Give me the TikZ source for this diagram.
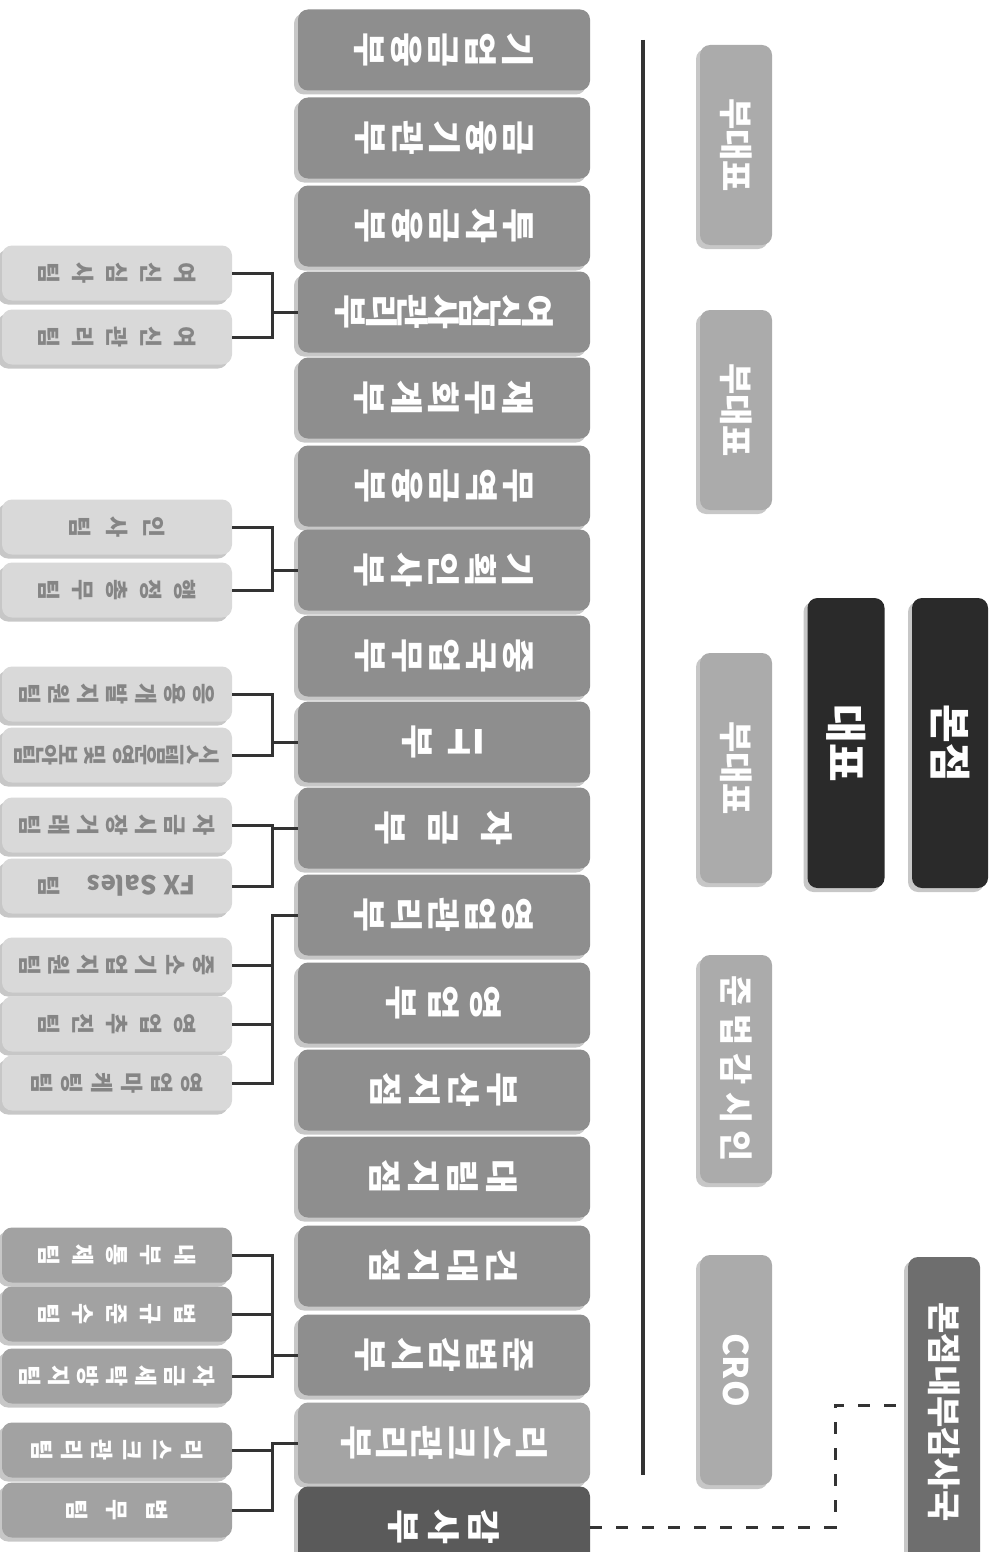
\documentclass[tikz,border=0pt]{standalone}
\usepackage{fontspec}
\setmainfont{Noto Sans CJK KR}
\newfontfamily\krwide{Noto Sans CJK KR}[FakeStretch=1.15]
\usetikzlibrary{shadows}
\definecolor{deptc}{HTML}{8E8E8E}
\definecolor{deptl}{HTML}{A4A4A4}
\definecolor{auditc}{HTML}{5A5A5A}
\definecolor{teamlight}{HTML}{D9D9D9}
\definecolor{teamdark}{HTML}{A2A2A2}
\definecolor{teamtext}{HTML}{858585}
\definecolor{vpc}{HTML}{ABABAB}
\definecolor{chiefc}{HTML}{2A2A2A}
\definecolor{iac}{HTML}{6E6E6E}
\definecolor{linec}{HTML}{333333}
\tikzset{
  box/.style={rounded corners=10pt, rotate=-90, inner sep=0pt, align=center, text=white,
    drop shadow={shadow xshift=-4pt, shadow yshift=-4pt, opacity=0.22, fill=black}},
  dept/.style={box, fill=deptc, minimum width=81pt, minimum height=292pt,
    font=\krwide\bfseries\fontsize{33}{#1}\selectfont},
  dept/.default=37,
  team/.style={box, fill=teamlight, text=teamtext, minimum width=55pt, minimum height=230pt,
    font=\bfseries\fontsize{23}{#1}\selectfont},
  team/.default=34,
  dteam/.style={team=#1, fill=teamdark, text=white},
  dteam/.default=34,
  side/.style={box, fill=vpc, minimum height=72pt, font=\bfseries\fontsize{34}{40}\selectfont},
  chief/.style={box, fill=chiefc, minimum height=77pt, minimum width=290pt, font=\bfseries\fontsize{42}{48}\selectfont},
  conn/.style={draw=linec, line width=3pt},
  dashconn/.style={draw=linec, line width=3pt, dash pattern=on 12pt off 14pt},
}
\begin{document}
\begin{tikzpicture}[x=1pt,y=-1pt]
\useasboundingbox (0,0) rectangle (998,1552);
\clip (0,0) rectangle (998,1552);
\fill[white] (0,0) rectangle (998,1552);

% departments
\node[dept] (d1) at (444,50) {기\\업\\금\\융\\부};
\node[dept] (d2) at (444,138) {금\\융\\기\\관\\부};
\node[dept] (d3) at (444,226) {투\\자\\금\\융\\부};
\node[dept=31] (d4) at (444,312) {여\\신\\심\\사\\관\\리\\부};
\node[dept] (d5) at (444,398) {재\\무\\회\\계\\부};
\node[dept] (d6) at (444,486) {무\\역\\금\\융\\부};
\node[dept] (d7) at (444,570) {기\\획\\인\\사\\부};
\node[dept] (d8) at (444,656) {중\\국\\업\\무\\부};
\node[dept] (d9) at (444,742) {\rotatebox{-90}{IT}\\[14pt]부};
\node[dept=53] (d10) at (444,828) {자\\금\\부};
\node[dept] (d11) at (444,915) {영\\업\\관\\리\\부};
\node[dept=42] (d12) at (444,1003) {영\\업\\부};
\node[dept=39] (d13) at (444,1090) {부\\산\\지\\점};
\node[dept=39] (d14) at (444,1177) {대\\림\\지\\점};
\node[dept=39] (d15) at (444,1266) {건\\대\\지\\점};
\node[dept] (d16) at (444,1355) {준\\법\\감\\시\\부};
\node[dept=35, fill=deptl] (d17) at (444,1443) {리\\스\\크\\관\\리\\부};
\node[dept=40, fill=auditc] (d18) at (444,1527) {감\\사\\부};

% teams
\node[team] (t1) at (117,273) {여\\신\\심\\사\\팀};
\node[team] (t2) at (117,337) {여\\신\\관\\리\\팀};
\node[team=37] (t3) at (117,527) {인\\사\\팀};
\node[team] (t4) at (117,590) {행\\정\\총\\무\\팀};
\node[team=29] (t5) at (117,694) {응\\용\\개\\발\\지\\원\\팀};
\node[team=21] (t6) at (117,755) {\fontsize{21}{21}\selectfont 시\\스\\템\\운\\영\\[6pt]및\\[6pt]보\\안\\팀};
\node[team=29] (t7) at (117,825) {자\\금\\시\\장\\거\\래\\팀};
\node[team] (t8) at (117,886) {\rotatebox{-90}{\fontsize{26}{30}\selectfont FX Sales}\\[26pt]팀};
\node[team=29] (t9) at (117,965) {중\\소\\기\\업\\지\\원\\팀};
\node[team] (t10) at (117,1024) {영\\업\\추\\진\\팀};
\node[team=30] (t11) at (117,1083) {영\\업\\마\\케\\팅\\팀};
\node[dteam] (t12) at (117,1255) {내\\부\\통\\제\\팀};
\node[dteam] (t13) at (117,1314) {법\\규\\준\\수\\팀};
\node[dteam=29] (t14) at (117,1376) {자\\금\\세\\탁\\방\\지\\팀};
\node[dteam=30] (t15) at (117,1450) {리\\스\\크\\관\\리\\팀};
\node[dteam=40] (t16) at (117,1510) {법\\무\\팀};

% brackets
\foreach \t/\d in {t1/d4,t2/d4,t3/d7,t4/d7,t5/d9,t6/d9,t7/d10,t8/d10,t9/d11,t10/d11,t11/d11,t12/d16,t13/d16,t14/d16,t15/d17,t16/d17}
  \draw[conn] (\t.north) -- ++(40,0) |- (\d.south);

% right column
\coordinate (vtop) at (643,40);
\coordinate (vbot) at (643,1475);
\draw[draw=linec, line width=3.5pt] (vtop) -- (vbot);
\node[side, minimum width=200pt] (vp1) at (736,145) {부대표};
\node[side, minimum width=200pt] (vp2) at (736,410) {부대표};
\node[side, minimum width=230pt] (vp3) at (736,768) {부대표};
\node[side, minimum width=228pt] (cl) at (736,1069) {\addfontfeatures{LetterSpace=22}준법감시인};
\node[side, minimum width=230pt] (cro) at (736,1370) {CRO};
\node[chief] (ceo) at (846,743) {대표};
\node[chief, minimum height=76pt] (hq) at (950,743) {본점};
\node[box, fill=iac, minimum height=72pt, minimum width=310pt, font=\bfseries\fontsize{34}{40}\selectfont] (ia) at (944,1412) {본점내부감사국};

\coordinate (k) at (835,1405);
\draw[dashconn] (d18.north) -| (k) -- (k -| ia.south);
\end{tikzpicture}
\end{document}
